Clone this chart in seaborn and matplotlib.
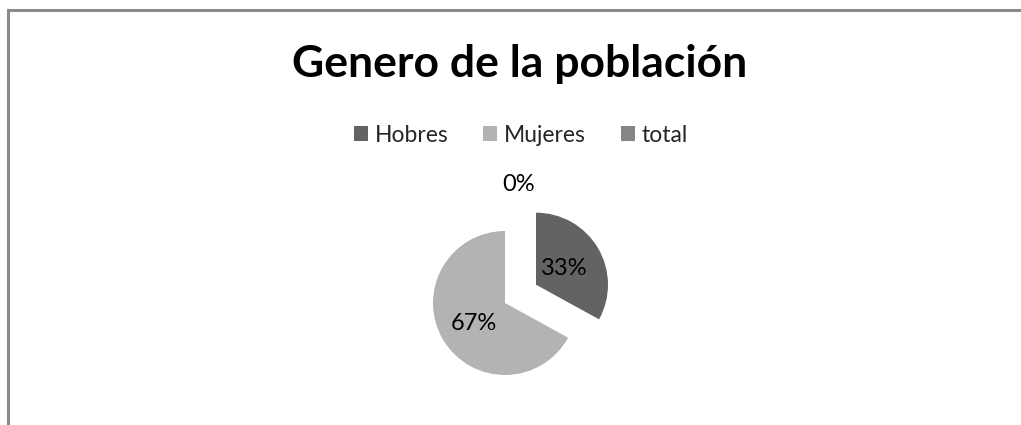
import matplotlib
matplotlib.use("Agg")
import matplotlib.pyplot as plt
import seaborn as sns
from matplotlib.patches import Rectangle

# data
categories = ["Hobres", "Mujeres", "total"]
percentages = [33, 67, 0]
colors = ["#636363", "#b3b3b3", "#868686"]
title = "Genero de la población"

sns.set_theme(style="white")
plt.rcParams["font.family"] = ["Lato", "DejaVu Sans"]

W, H = 1021, 425
fig = plt.figure(figsize=(W / 100, H / 100), dpi=100)
fig.patch.set_facecolor("white")

# frame of the chart area (cut at the right and bottom, like the screenshot)
fig.add_artist(Rectangle((7.5 / W, -0.05), 1.1, (H - 10.5) / H + 0.05,
                         transform=fig.transFigure, fill=False,
                         edgecolor="#8a8a8a", linewidth=2.2))

fig.text(520 / W, (H - 77) / H, title, ha="center", va="baseline",
         fontsize=32, fontweight="bold", color="black")

# pie: radius 1 == 72 px, centre at (505, 303)
r_px = 72
half = 120
ax = fig.add_axes([(505 - half) / W, (H - 303 - half) / H, 2 * half / W, 2 * half / H])
lim = half / r_px
wedges, texts, autotexts = ax.pie(
    percentages, colors=colors, explode=[0.5, 0, 0], startangle=90,
    counterclock=False, autopct="%1.0f%%", pctdistance=0.45,
    textprops={"fontsize": 17, "color": "black"},
    wedgeprops={"linewidth": 0})
ax.set_xlim(-lim, lim)
ax.set_ylim(-lim, lim)
ax.set_aspect("equal")
ax.axis("off")
# Excel-like label placement: 67% a bit further out, 0% above the pie
x, y = autotexts[1].get_position()
autotexts[1].set_position((x * 1.12, y * 1.25))
autotexts[2].set_position((0.19, 1.64))

fig.legend(wedges, categories, loc="center", ncol=3,
           bbox_to_anchor=(521 / W, (H - 135) / H), frameon=False,
           fontsize=16.5, handlelength=0.62, handleheight=0.62,
           handletextpad=0.3, columnspacing=1.5)

fig.savefig("out.png", dpi=100, facecolor="white")
